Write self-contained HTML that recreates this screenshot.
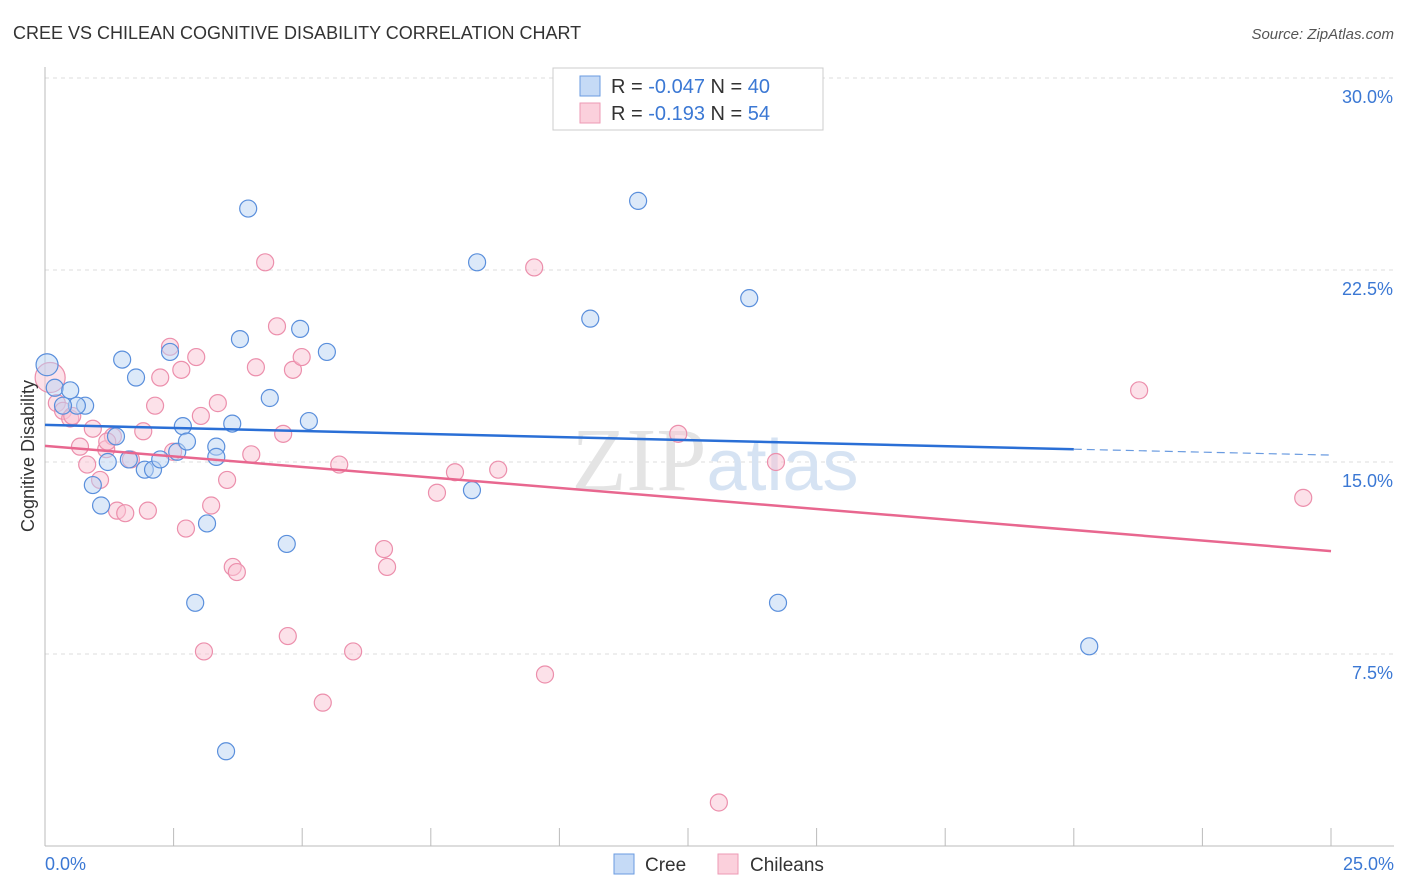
<!DOCTYPE html>
<html><head><meta charset="utf-8"><style>
body{margin:0;background:#fff;font-family:"Liberation Sans",sans-serif}
svg{display:block}
</style></head><body>
<svg width="1406" height="892" xmlns="http://www.w3.org/2000/svg">
<text x="13" y="39" font-size="18" fill="#333">CREE VS CHILEAN COGNITIVE DISABILITY CORRELATION CHART</text>
<text x="1394" y="39" font-size="15" fill="#555" font-style="italic" text-anchor="end">Source: ZipAtlas.com</text>
<g id="grid"></g>
<text x="715" y="490" font-size="90" fill="#e4e4e4" text-anchor="middle" font-family="Liberation Serif">ZIP<tspan fill="#d6e3f3" font-family="Liberation Sans" font-size="72">atlas</tspan></text>
<line x1="45" y1="67" x2="45" y2="846" stroke="#bbb"/>
<line x1="45" y1="846" x2="1394" y2="846" stroke="#bbb"/>
<g id="ticks"></g>
<g id="pts"></g>
<g id="trend"></g>
<text transform="translate(34,456) rotate(-90)" font-size="18" fill="#333" text-anchor="middle">Cognitive Disability</text>
<text x="45" y="870" font-size="18" fill="#3b78d4">0.0%</text>
<text x="1394" y="870" font-size="18" fill="#3b78d4" text-anchor="end">25.0%</text>
<g>
<rect x="553" y="68" width="270" height="62" fill="#fff" stroke="#ccc"/>
<rect x="580" y="76" width="20" height="20" fill="#c5daf6" stroke="#6a9be0"/>
<rect x="580" y="103" width="20" height="20" fill="#fbd0dc" stroke="#ee9ab4"/>
<text x="611" y="93" font-size="20" fill="#333">R = <tspan fill="#3b78d4">-0.047</tspan>   N = <tspan fill="#3b78d4">40</tspan></text>
<text x="611" y="120" font-size="20" fill="#333">R =  <tspan fill="#3b78d4">-0.193</tspan>   N = <tspan fill="#3b78d4">54</tspan></text>
</g>
<g>
<rect x="614" y="854" width="20" height="20" fill="#c5daf6" stroke="#6a9be0"/>
<text x="645" y="871" font-size="19" fill="#333">Cree</text>
<rect x="718" y="854" width="20" height="20" fill="#fbd0dc" stroke="#ee9ab4"/>
<text x="750" y="871" font-size="19" fill="#333">Chileans</text>
</g>
</svg>
<script>
const yTicks=[7.5,15,22.5,30];
const xTicks=[0,2.5,5,7.5,10,12.5,15,17.5,20,22.5,25];
const creeX=[0.04,0.19,0.49,0.78,0.62,0.35,1.50,1.77,1.38,1.22,0.93,1.09,1.63,1.94,2.10,2.24,2.43,2.57,2.68,2.76,3.15,2.92,3.33,3.33,3.64,3.79,3.95,4.37,4.70,4.96,5.13,5.48,3.52,8.30,8.40,10.60,11.53,13.69,14.25,20.30];
const creeY=[18.8,17.9,17.8,17.2,17.2,17.2,19.0,18.3,16.0,15.0,14.1,13.3,15.1,14.7,14.7,15.1,19.3,15.4,16.4,15.8,12.6,9.5,15.6,15.2,16.5,19.8,24.9,17.5,11.8,20.2,16.6,19.3,3.7,13.9,22.8,20.6,25.2,21.4,9.5,7.8];
const chilX=[0.10,0.23,0.35,0.49,0.93,0.68,0.82,1.07,1.19,1.32,1.40,1.56,1.67,1.91,2.00,2.14,2.24,2.43,2.49,2.65,2.74,2.94,3.03,3.23,3.09,3.36,3.54,3.65,3.73,4.01,4.10,4.28,4.51,4.63,4.72,4.82,4.99,5.40,5.72,5.99,6.59,6.65,7.62,7.97,8.81,9.51,9.72,12.31,13.10,14.21,21.27,24.46,1.21,0.53];
const chilY=[18.3,17.3,17.0,16.7,16.3,15.6,14.9,14.3,15.5,16.0,13.1,13.0,15.1,16.2,13.1,17.2,18.3,19.5,15.4,18.6,12.4,19.1,16.8,13.3,7.6,17.3,14.3,10.9,10.7,15.3,18.7,22.8,20.3,16.1,8.2,18.6,19.1,5.6,14.9,7.6,11.6,10.9,13.8,14.6,14.7,22.6,6.7,16.1,1.7,15.0,17.8,13.6,15.8,16.8];
const blueTrend=[16.45,15.5,15.27];
const pinkTrend=[15.63,11.52];
const sx=v=>45+v/25*1286, sy=v=>846-v/7.5*192;
const NS="http://www.w3.org/2000/svg";
function mk(t,a,p){const e=document.createElementNS(NS,t);for(const k in a)e.setAttribute(k,a[k]);p.appendChild(e);return e;}
const grid=document.getElementById('grid');
yTicks.forEach(v=>{
const l=mk('line',{x1:45,x2:1394,y1:sy(v),y2:sy(v),stroke:'#ddd','stroke-dasharray':'4,4'},grid);


const t=mk('text',{x:1393,y:sy(v)+25,'font-size':18,fill:'#3b78d4','text-anchor':'end'},grid);
t.textContent=v.toFixed(1)+'%';


});
const tk=document.getElementById('ticks');
xTicks.forEach(v=>{
const l=mk('line',{x1:sx(v),x2:sx(v),y1:828,y2:846,stroke:'#bbb'},tk);


});
const pts=document.getElementById('pts');
function dots(X,Y,fill,stroke,name){X.forEach((x,i)=>{
const r=(i==0)?(name=='chilean-point'?15:11):8.5;
const c=mk('circle',{cx:sx(x),cy:sy(Y[i]),r:r,fill:fill,'fill-opacity':0.5,stroke:stroke,'stroke-width':1.2},pts);


});}
dots(chilX,chilY,'#f9c4d3','#ec8fac','chilean-point');
dots(creeX,creeY,'#b9d3f4','#5a8fdc','cree-point');
const tr=document.getElementById('trend');
let b=mk('line',{x1:sx(0),y1:sy(blueTrend[0]),x2:sx(20),y2:sy(blueTrend[1]),stroke:'#2a6fd6','stroke-width':2.5},tr);


let bd=mk('line',{x1:sx(20),y1:sy(blueTrend[1]),x2:sx(25),y2:sy(blueTrend[2]),stroke:'#6a9be0','stroke-width':1.2,'stroke-dasharray':'8,5'},tr);


let p=mk('line',{x1:sx(0),y1:sy(pinkTrend[0]),x2:sx(25),y2:sy(pinkTrend[1]),stroke:'#e8678f','stroke-width':2.5},tr);


</script>
</body></html>
